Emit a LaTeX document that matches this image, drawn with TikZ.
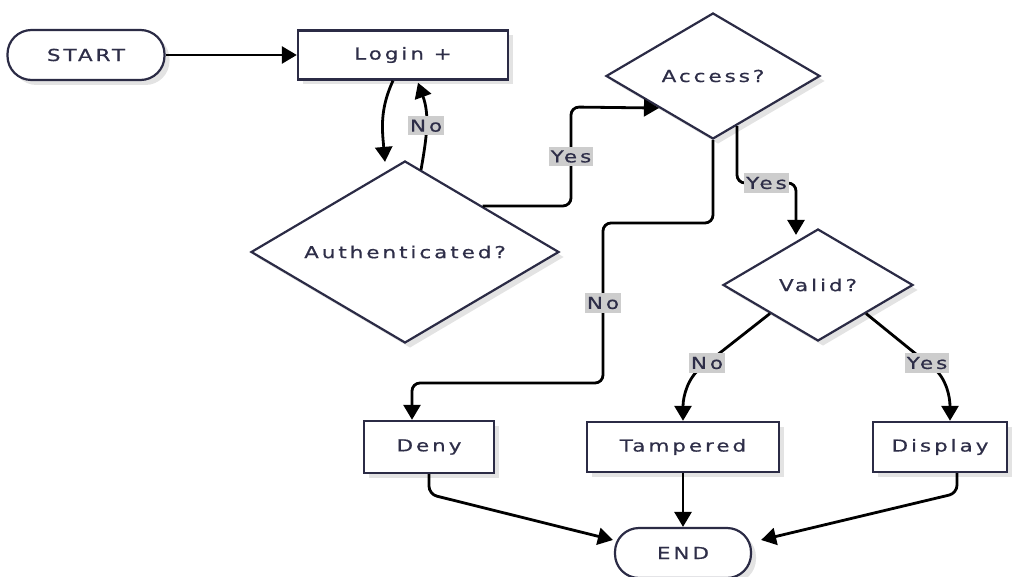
\documentclass[tikz,border=0pt]{standalone}
\usepackage{fontspec}
\newfontfamily\flowfont[FakeStretch=1.3,LetterSpace=18,FakeBold=0.6]{DejaVu Sans}
\usepackage{tikz}
\usetikzlibrary{arrows.meta,shapes.geometric,shadows}

\definecolor{boxline}{HTML}{2B2B45}
\definecolor{boxtext}{HTML}{2E2E48}
\definecolor{tagfill}{HTML}{CDCDCD}
\definecolor{shade}{HTML}{E3E3E3}

\begin{document}
\begin{tikzpicture}[
  x=1pt, y=1pt,
  font=\flowfont\fontsize{16.5}{20}\selectfont,
  boxshadow/.style={drop shadow={shadow xshift=5pt,shadow yshift=-5pt,fill=shade,opacity=1}},
  term/.style={draw=boxline, line width=2.2pt, fill=white, text=boxtext,
    rounded corners=24pt, minimum height=50pt, inner sep=0pt, boxshadow},
  proc/.style={draw=boxline, line width=2.4pt, fill=white, text=boxtext,
    inner sep=0pt, boxshadow},
  ask/.style={diamond, aspect=1.7, draw=boxline, line width=2.2pt, fill=white,
    text=boxtext, inner sep=0pt, boxshadow},
  flow/.style={line width=2.8pt, -{Triangle[length=15pt,width=17pt]},
    rounded corners=8pt},
  tag/.style={fill=tagfill, text=boxtext, sharp corners, inner xsep=2pt, inner ysep=3.5pt}
]
\useasboundingbox (0,0) rectangle (1019,-577);

% shapes
\node[term, minimum width=157pt] (start) at (86,-55) {START};
\node[proc, minimum width=210pt, minimum height=49pt] (login) at (403,-55) {Login +};
\node[ask, minimum width=308pt, minimum height=182pt] (auth) at (405,-252) {Authenticated?};
\node[ask, minimum width=214pt, minimum height=126pt] (access) at (713,-76) {Access?};
\node[ask, minimum width=190pt, minimum height=112pt] (valid) at (818,-285) {Valid?};
\node[proc, minimum width=130pt, minimum height=52pt] (deny) at (429,-447) {Deny};
\node[proc, minimum width=192pt, minimum height=50pt] (tampered) at (683,-447) {Tampered};
\node[proc, minimum width=134pt, minimum height=50pt] (display) at (940,-447) {Display};
\node[term, minimum width=136pt] (finish) at (683,-553) {END};

% bends
\coordinate (yesbend) at (571,-107);
\coordinate (nobend) at (603,-223);
\coordinate (nolow) at (603,-383);
\coordinate (validbend) at (796,-183);
\coordinate (notag) at (707,-363);
\coordinate (yestag) at (927,-363);

% connectors
\draw[flow] (start) -- (login);
\draw[flow] ([xshift=-10pt]login.south) to[out=-115,in=95] ([xshift=-20pt,yshift=-2pt]auth.north);
\draw[flow] ([xshift=16pt,yshift=-10pt]auth.north) to[out=80,in=-70] node[tag]{No} ([xshift=15pt,yshift=-2pt]login.south);
\draw[flow] (auth.north east) -| node[tag,pos=0.75]{Yes} (yesbend) -- (access.south west);
\draw[flow] (access.south) |- (nobend) -- node[tag]{No} (nolow) -| ([xshift=-17pt]deny.north);
\draw[flow] ([xshift=24pt,yshift=14pt]access.south) |- node[tag,pos=0.75]{Yes} (validbend) -- ([xshift=-22pt,yshift=-7pt]valid.north);
\draw[flow] (valid.south west) -- (notag) node[tag]{No} to[out=218,in=90] (tampered.north);
\draw[flow] (valid.south east) -- (yestag) node[tag]{Yes} to[out=-38,in=90] ([xshift=10pt]display.north);
\draw[flow] (deny.south) -- ([yshift=-20pt]deny.south) -- ([xshift=-1pt,yshift=13pt]finish.west);
\draw[flow] (tampered.south) -- (finish.north);
\draw[flow] ([xshift=17pt]display.south) -- ([xshift=17pt,yshift=-20pt]display.south) -- ([xshift=9pt,yshift=13pt]finish.east);
\end{tikzpicture}
\end{document}
